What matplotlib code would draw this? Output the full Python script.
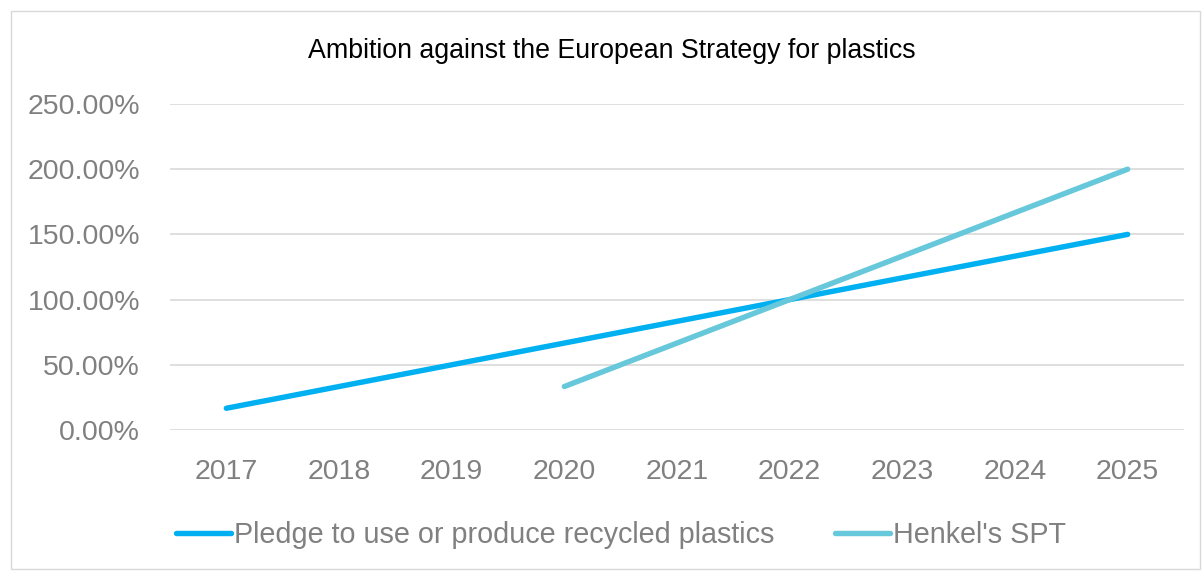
import numpy as np
import matplotlib.pyplot as plt
from matplotlib.lines import Line2D

years = ['2017', '2018', '2019', '2020', '2021', '2022', '2023', '2024', '2025']
pledge = [16.67, 33.33, 50.0, 66.67, 83.33, 100.0, 116.67, 133.33, 150.0]
henkel_years = ['2020', '2021', '2022', '2023', '2024', '2025']
henkel = [33.33, 66.67, 100.0, 133.33, 166.67, 200.0]
yticks = [0, 50, 100, 150, 200, 250]

c_pledge = '#00B0F0'
c_henkel = '#66C8DA'
grey = '#808080'

plt.rcParams['font.family'] = ['Liberation Sans', 'DejaVu Sans']

fig = plt.figure(figsize=(12.02, 5.71), dpi=100)
# outer chart border
fig.patches.append(plt.Rectangle((11/1202, 2/571), 1189/1202, 558/571, transform=fig.transFigure,
                                 fill=False, edgecolor='#D9D9D9', linewidth=1))

ax = fig.add_axes([170/1202, 1-430/571, (1184-170)/1202, (430-104)/571])
x = np.arange(len(years))
hx = [years.index(y) for y in henkel_years]

ax.plot(x, pledge, color=c_pledge, linewidth=3.9, solid_capstyle='round')
ax.plot(hx, henkel, color=c_henkel, linewidth=3.9, solid_capstyle='round')

ax.set_xlim(-0.5, len(years) - 0.5)
ax.set_ylim(0, 250)
ax.set_yticks(yticks)
ax.set_yticklabels(['%.2f%%' % v for v in yticks])
ax.set_xticks(x)
ax.set_xticklabels(years)
ax.tick_params(length=0, labelsize=20.5, colors=grey)
ax.tick_params(axis='y', pad=21.5)
ax.tick_params(axis='x', pad=21)
ax.yaxis.grid(True, color='#D9D9D9', linewidth=1.2)
ax.set_axisbelow(True)
for s in ax.spines.values():
    s.set_visible(False)

fig.text(612/1202, 1-51/571, 'Ambition against the European Strategy for plastics',
         ha='center', va='center', fontsize=19.3, color='black')

handles = [Line2D([], [], color=c_pledge, linewidth=3.9, solid_capstyle='round'),
           Line2D([], [], color=c_henkel, linewidth=3.9, solid_capstyle='round')]
leg = fig.legend(handles, ['Pledge to use or produce recycled plastics', "Henkel's SPT"],
                 loc='center', bbox_to_anchor=(621/1202, 1-535/571), ncol=2, frameon=False,
                 fontsize=20.7, handlelength=1.9, handletextpad=0.12, columnspacing=2.1)
for t in leg.get_texts():
    t.set_color(grey)

fig.savefig('out.png', dpi=100)
